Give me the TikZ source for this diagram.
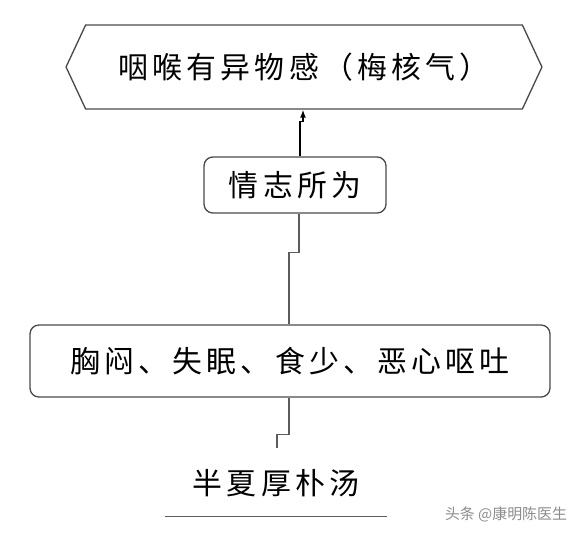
\documentclass[tikz,border=0pt]{standalone}
\usepackage{fontspec}
\setmainfont{Noto Sans CJK SC}
\newfontfamily\cjk[LetterSpace=14]{Noto Sans CJK SC}
\usetikzlibrary{arrows.meta,calc,positioning,shapes.symbols}
\definecolor{MZEdge}{HTML}{4A4A4A}
\definecolor{MZLink}{HTML}{5C5C5C}
\definecolor{MZMark}{HTML}{8C8C8C}
\tikzset{
  mzHex/.style={
    signal, signal to=west and east, signal pointer angle=130,
    draw=MZEdge, line width=0.75pt, fill=white,
    minimum width=9.52cm, minimum height=1.68cm, inner sep=0pt,
    font=\cjk\fontsize{17}{19}\selectfont
  },
  mzBox/.style={
    rectangle, rounded corners=5pt, draw=MZEdge, line width=0.75pt,
    fill=white, align=center, inner sep=0pt,
    font=\cjk\fontsize{17}{19}\selectfont
  },
  mzText/.style={
    rectangle, draw=none, inner sep=0pt,
    font=\cjk\fontsize{17}{19}\selectfont
  },
  mzLink/.style={draw=MZLink, line width=0.6pt},
  mzArrow/.style={-{Latex[length=1.6mm,width=1.2mm]}, draw=black, line width=0.8pt},
  mzMark/.style={text=MZMark, font=\fontsize{8.5}{9}\selectfont, inner sep=0pt}
}
\begin{document}
\begin{tikzpicture}[x=0.02cm, y=-0.02cm]
  \useasboundingbox[fill=white] (0,0) rectangle (581,537);

  \node[mzHex] (throat) at (304,67) {咽喉有异物感（梅核气）};
  \node[mzBox, minimum width=3.64cm, minimum height=1.12cm] (mood) at (295,185) {情志所为};
  \node[mzBox, minimum width=10.4cm, minimum height=1.44cm] (sympt) at (290,361) {胸闷、失眠、食少、恶心呕吐};
  \node[mzText, minimum width=4.44cm, minimum height=1.32cm] (recipe) at (276,483) {半夏厚朴汤};
  \coordinate (recipetop) at (277,448);

  % links between the steps
  \draw[mzArrow] ($(mood.north)+(5,0)$) -- ++(0,-35) -| ($(throat.south)+(-1,0)$);
  \draw[mzLink] ($(mood.south)+(4,0)$) -- ++(0,39) -| ($(sympt.north)+(-1,0)$);
  \draw[mzLink] ($(sympt.south)+(-1,0)$) -- ++(0,37) -| (recipetop);

  % rule under the recipe
  \draw[mzLink, line width=0.75pt] (recipe.south west) -- (recipe.south east);

  \node[mzMark] (mark) at (506,514) {头条 @康明陈医生};
\end{tikzpicture}
\end{document}
